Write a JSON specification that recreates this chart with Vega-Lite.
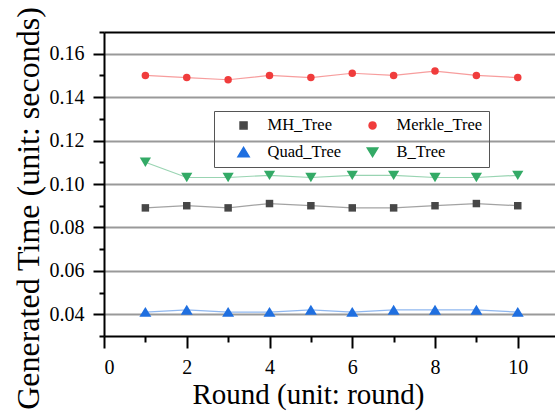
{
  "$schema": "https://vega.github.io/schema/vega-lite/v6.json",
  "autosize": "none",
  "width": 451,
  "height": 304,
  "padding": {"left": 104, "top": 32, "right": 0, "bottom": 77},
  "background": "white",
  "config": {
    "view": {"stroke": null},
    "font": "Liberation Serif",
    "axis": {"labelFont": "Liberation Serif", "labelFontSize": 20, "labelColor": "black", "titleFont": "Liberation Serif", "titleColor": "black", "titleFontWeight": "normal"},
    "legend": {"labelFont": "Liberation Serif", "labelFontSize": 16.5, "labelColor": "black"}
  },
  "data": {
    "values": [
      {"Round": 1, "Time": 0.089, "Series": "MH_Tree"},
      {"Round": 2, "Time": 0.090, "Series": "MH_Tree"},
      {"Round": 3, "Time": 0.089, "Series": "MH_Tree"},
      {"Round": 4, "Time": 0.091, "Series": "MH_Tree"},
      {"Round": 5, "Time": 0.090, "Series": "MH_Tree"},
      {"Round": 6, "Time": 0.089, "Series": "MH_Tree"},
      {"Round": 7, "Time": 0.089, "Series": "MH_Tree"},
      {"Round": 8, "Time": 0.090, "Series": "MH_Tree"},
      {"Round": 9, "Time": 0.091, "Series": "MH_Tree"},
      {"Round": 10, "Time": 0.090, "Series": "MH_Tree"},
      {"Round": 1, "Time": 0.150, "Series": "Merkle_Tree"},
      {"Round": 2, "Time": 0.149, "Series": "Merkle_Tree"},
      {"Round": 3, "Time": 0.148, "Series": "Merkle_Tree"},
      {"Round": 4, "Time": 0.150, "Series": "Merkle_Tree"},
      {"Round": 5, "Time": 0.149, "Series": "Merkle_Tree"},
      {"Round": 6, "Time": 0.151, "Series": "Merkle_Tree"},
      {"Round": 7, "Time": 0.150, "Series": "Merkle_Tree"},
      {"Round": 8, "Time": 0.152, "Series": "Merkle_Tree"},
      {"Round": 9, "Time": 0.150, "Series": "Merkle_Tree"},
      {"Round": 10, "Time": 0.149, "Series": "Merkle_Tree"},
      {"Round": 1, "Time": 0.041, "Series": "Quad_Tree"},
      {"Round": 2, "Time": 0.042, "Series": "Quad_Tree"},
      {"Round": 3, "Time": 0.041, "Series": "Quad_Tree"},
      {"Round": 4, "Time": 0.041, "Series": "Quad_Tree"},
      {"Round": 5, "Time": 0.042, "Series": "Quad_Tree"},
      {"Round": 6, "Time": 0.041, "Series": "Quad_Tree"},
      {"Round": 7, "Time": 0.042, "Series": "Quad_Tree"},
      {"Round": 8, "Time": 0.042, "Series": "Quad_Tree"},
      {"Round": 9, "Time": 0.042, "Series": "Quad_Tree"},
      {"Round": 10, "Time": 0.041, "Series": "Quad_Tree"},
      {"Round": 1, "Time": 0.110, "Series": "B_Tree"},
      {"Round": 2, "Time": 0.103, "Series": "B_Tree"},
      {"Round": 3, "Time": 0.103, "Series": "B_Tree"},
      {"Round": 4, "Time": 0.104, "Series": "B_Tree"},
      {"Round": 5, "Time": 0.103, "Series": "B_Tree"},
      {"Round": 6, "Time": 0.104, "Series": "B_Tree"},
      {"Round": 7, "Time": 0.104, "Series": "B_Tree"},
      {"Round": 8, "Time": 0.103, "Series": "B_Tree"},
      {"Round": 9, "Time": 0.103, "Series": "B_Tree"},
      {"Round": 10, "Time": 0.104, "Series": "B_Tree"}
    ]
  },
  "resolve": {"axis": {"x": "independent", "y": "independent"}},
  "layer": [
    {
      "mark": {"type": "line", "strokeWidth": 1.2, "opacity": 0.5},
      "encoding": {
        "x": {
          "field": "Round", "type": "quantitative",
          "scale": {"domain": [0, 10.9], "nice": false, "zero": false},
          "axis": {
            "orient": "bottom",
            "values": [0, 2, 4, 6, 8, 10],
            "tickSize": 12,
            "grid": false,
            "domainColor": "black", "domainWidth": 2,
            "tickColor": "black", "tickWidth": 2,
            "labelFont": "Liberation Serif", "labelFontSize": 20, "labelColor": "black", "labelPadding": 9,
            "title": "Round (unit: round)",
            "titleFont": "Liberation Serif", "titleFontSize": 29, "titleFontWeight": "normal", "titleColor": "black",
            "titleX": 204, "titleY": 67, "titleAlign": "center", "titleBaseline": "alphabetic"
          }
        },
        "y": {
          "field": "Time", "type": "quantitative",
          "scale": {"domain": [0.03, 0.17], "nice": false, "zero": false},
          "axis": {
            "orient": "left",
            "values": [0.04, 0.06, 0.08, 0.10, 0.12, 0.14, 0.16],
            "format": ".2f",
            "tickSize": 11,
            "grid": true, "gridColor": "#999999", "gridWidth": 2,
            "domainColor": "black", "domainWidth": 2,
            "tickColor": "black", "tickWidth": 2,
            "labelFont": "Liberation Serif", "labelFontSize": 20, "labelColor": "black", "labelPadding": 9,
            "title": "Generated Time (unit: seconds)",
            "titleFont": "Liberation Serif", "titleFontSize": 32, "titleFontWeight": "normal", "titleColor": "black",
            "titleX": -66, "titleY": 176, "titleAngle": -90, "titleAlign": "center", "titleBaseline": "alphabetic"
          }
        },
        "color": {
          "field": "Series", "type": "nominal",
          "scale": {"domain": ["MH_Tree", "Merkle_Tree", "Quad_Tree", "B_Tree"], "range": ["#474747", "#f03c3c", "#1f6fe0", "#33aa66"]},
          "legend": {
            "orient": "none", "legendX": 110, "legendY": 79, "columns": 2, "direction": "horizontal", "title": null,
            "strokeColor": "#555555", "padding": 6, "columnPadding": 7, "rowPadding": 10,
            "labelFont": "Liberation Serif", "labelFontSize": 16.5, "labelColor": "black",
            "symbolSize": 49, "symbolOffset": 15.3, "labelOffset": 15.7, "symbolOpacity": 1
          }
        }
      }
    },
    {
      "mark": {"type": "point", "filled": true, "size": 56, "opacity": 1, "strokeWidth": 0},
      "encoding": {
        "x": {
          "field": "Round", "type": "quantitative",
          "axis": {"orient": "bottom", "values": [1, 3, 5, 7, 9], "tickSize": 6, "tickColor": "black", "tickWidth": 2, "labels": false, "domain": false, "grid": false, "title": null}
        },
        "y": {
          "field": "Time", "type": "quantitative",
          "axis": {"orient": "left", "values": [0.03, 0.05, 0.07, 0.09, 0.11, 0.13, 0.15, 0.17], "tickSize": 5, "tickColor": "black", "tickWidth": 2, "labels": false, "domain": false, "grid": false, "title": null}
        },
        "color": {"field": "Series", "type": "nominal"},
        "shape": {
          "field": "Series", "type": "nominal",
          "scale": {"domain": ["MH_Tree", "Merkle_Tree", "Quad_Tree", "B_Tree"], "range": ["square", "circle", "M0,-1.4L1.6,1.27L-1.6,1.27Z", "M0,1.25L1.5,-1.25L-1.5,-1.25Z"]}
        }
      }
    },
    {
      "mark": {"type": "line", "opacity": 0},
      "encoding": {
        "x": {
          "field": "Round", "type": "quantitative",
          "axis": {"orient": "top", "labels": false, "ticks": false, "grid": false, "title": null, "domainColor": "black", "domainWidth": 2}
        },
        "y": {"field": "Time", "type": "quantitative", "axis": null},
        "detail": {"field": "Series", "type": "nominal"}
      }
    }
  ]
}
